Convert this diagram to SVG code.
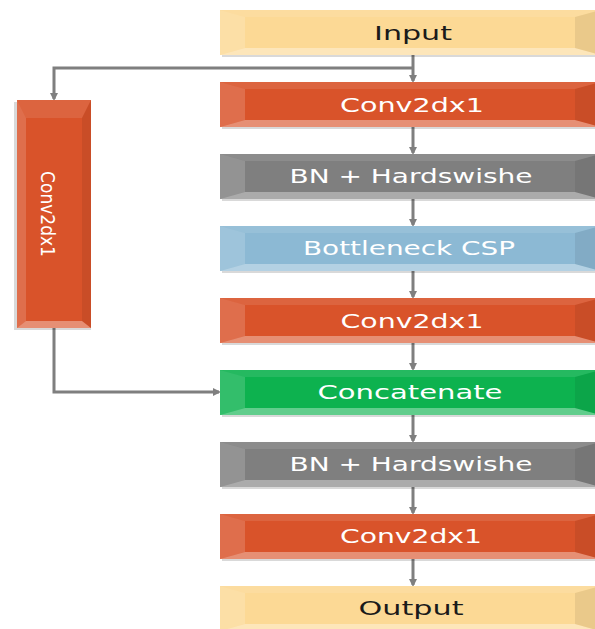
<svg xmlns="http://www.w3.org/2000/svg" xmlns:xlink="http://www.w3.org/1999/xlink" width="595" height="629" viewBox="0 0 595 629">
<style>
.lbl{font-family:"DejaVu Sans","Verdana",sans-serif;font-size:20px;text-anchor:middle;fill:#ffffff}
.dark{fill:#1a1a1a}
.conn{fill:none;stroke:#7f7f7f;stroke-width:3}
.bt{fill:#ffffff;fill-opacity:0.10}
.bl{fill:#ffffff;fill-opacity:0.16}
.bb{fill:#ffffff;fill-opacity:0.35}
.br{fill:#000000;fill-opacity:0.07}
.sh{fill:#000000;fill-opacity:0.15}
.yel{fill:#fcd995}
.org{fill:#d9532a}
.gry{fill:#7f7f7f}
.blu{fill:#8cb9d4}
.grn{fill:#0db24f}
</style>
<defs>
<marker id="ah" markerWidth="8" markerHeight="8" refX="6" refY="4" orient="auto" markerUnits="userSpaceOnUse">
<path d="M0,0 L8,4 L0,8 z" fill="#7f7f7f"/>
</marker>
<g id="bev">
<polygon class="bt" points="0,0 380,0 355,7 25,7"/>
<polygon class="bb" points="0,45 380,45 355,38 25,38"/>
<polygon class="bl" points="0,0 25,7 25,38 0,45"/>
<polygon class="br" points="380,0 355,7 355,38 380,45"/>
</g>
</defs>

<g id="connectors">
<path class="conn" d="M413,55 L413,81" marker-end="url(#ah)"/>
<path class="conn" d="M413,68 L54,68 L54,99" marker-end="url(#ah)"/>
<path class="conn" d="M413,127 L413,153" marker-end="url(#ah)"/>
<path class="conn" d="M413,199 L413,225" marker-end="url(#ah)"/>
<path class="conn" d="M413,271 L413,297" marker-end="url(#ah)"/>
<path class="conn" d="M413,343 L413,369" marker-end="url(#ah)"/>
<path class="conn" d="M54,328 L54,392 L219,392" marker-end="url(#ah)"/>
<path class="conn" d="M413,415 L413,441" marker-end="url(#ah)"/>
<path class="conn" d="M413,487 L413,513" marker-end="url(#ah)"/>
<path class="conn" d="M413,559 L413,585" marker-end="url(#ah)"/>
</g>

<g id="input">
<rect class="sh" x="222" y="12" width="380" height="45"/>
<rect class="yel" x="220" y="10" width="380" height="45"/>
<use xlink:href="#bev" x="220" y="10"/>
<text class="lbl dark" x="413" y="40" textLength="78" lengthAdjust="spacingAndGlyphs">Input</text>
</g>

<g id="conv1">
<rect class="sh" x="222" y="84" width="380" height="45"/>
<rect class="org" x="220" y="82" width="380" height="45"/>
<use xlink:href="#bev" x="220" y="82"/>
<text class="lbl" x="412" y="112" textLength="144" lengthAdjust="spacingAndGlyphs">Conv2dx1</text>
</g>

<g id="bn1">
<rect class="sh" x="222" y="156" width="380" height="45"/>
<rect class="gry" x="220" y="154" width="380" height="45"/>
<use xlink:href="#bev" x="220" y="154"/>
<text class="lbl" x="411" y="183" textLength="243" lengthAdjust="spacingAndGlyphs">BN + Hardswishe</text>
</g>

<g id="bottleneck">
<rect class="sh" x="222" y="228" width="380" height="45"/>
<rect class="blu" x="220" y="226" width="380" height="45"/>
<use xlink:href="#bev" x="220" y="226"/>
<text class="lbl" x="409" y="255" textLength="212" lengthAdjust="spacingAndGlyphs">Bottleneck CSP</text>
</g>

<g id="conv2">
<rect class="sh" x="222" y="300" width="380" height="45"/>
<rect class="org" x="220" y="298" width="380" height="45"/>
<use xlink:href="#bev" x="220" y="298"/>
<text class="lbl" x="412" y="328" textLength="143" lengthAdjust="spacingAndGlyphs">Conv2dx1</text>
</g>

<g id="concat">
<rect class="sh" x="222" y="372" width="380" height="45"/>
<rect class="grn" x="220" y="370" width="380" height="45"/>
<use xlink:href="#bev" x="220" y="370"/>
<text class="lbl" x="410" y="399" textLength="185" lengthAdjust="spacingAndGlyphs">Concatenate</text>
</g>

<g id="bn2">
<rect class="sh" x="222" y="444" width="380" height="45"/>
<rect class="gry" x="220" y="442" width="380" height="45"/>
<use xlink:href="#bev" x="220" y="442"/>
<text class="lbl" x="411" y="471" textLength="243" lengthAdjust="spacingAndGlyphs">BN + Hardswishe</text>
</g>

<g id="conv3">
<rect class="sh" x="222" y="516" width="380" height="45"/>
<rect class="org" x="220" y="514" width="380" height="45"/>
<use xlink:href="#bev" x="220" y="514"/>
<text class="lbl" x="411" y="543" textLength="142" lengthAdjust="spacingAndGlyphs">Conv2dx1</text>
</g>

<g id="output">
<rect class="sh" x="222" y="588" width="380" height="45"/>
<rect class="yel" x="220" y="586" width="380" height="45"/>
<use xlink:href="#bev" x="220" y="586"/>
<text class="lbl dark" x="411" y="615" textLength="105" lengthAdjust="spacingAndGlyphs">Output</text>
</g>

<g id="conv-side">
<rect class="sh" x="14" y="102" width="77" height="228"/>
<rect class="org" x="17" y="100" width="74" height="228"/>
<polygon class="bt" points="17,100 91,100 82,118 26,118"/>
<polygon class="bb" points="17,328 91,328 82,321 26,321"/>
<polygon class="bl" points="17,100 26,118 26,321 17,328"/>
<polygon class="br" points="91,100 82,118 82,321 91,328"/>
<text class="lbl" transform="translate(41,214) rotate(90)" x="0" y="0" font-size="29" textLength="86" lengthAdjust="spacingAndGlyphs">Conv2dx1</text>
</g>
</svg>
